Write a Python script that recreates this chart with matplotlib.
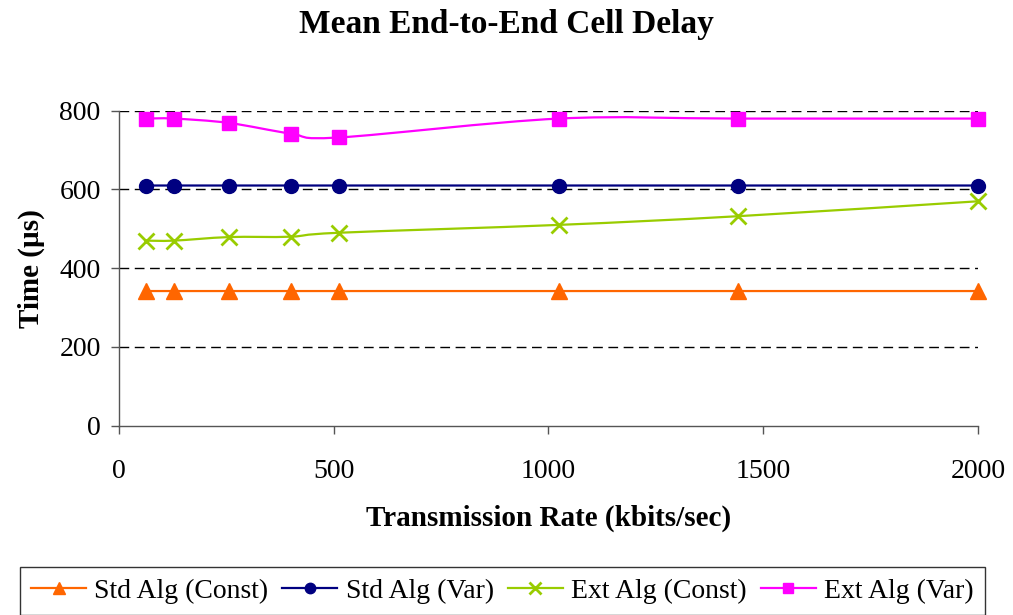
import matplotlib
matplotlib.use("Agg")
import matplotlib.pyplot as plt
from matplotlib.lines import Line2D
from matplotlib.patches import PathPatch
from matplotlib.path import Path
import numpy as np

plt.rcParams["font.family"] = ["Liberation Serif", "DejaVu Serif"]

# transmission rates (kbits/sec) and mean delays (microseconds)
rates = [64, 128, 256, 400, 512, 1024, 1440, 2000]
std_const = [342, 342, 342, 342, 342, 342, 342, 342]
std_var = [610, 610, 610, 610, 610, 610, 610, 610]
ext_const = [470, 470, 479, 480, 490, 510, 532, 570]
ext_var = [780, 780, 769, 742, 732, 780, 780, 780]

series_names = ["Std Alg (Const)", "Std Alg (Var)", "Ext Alg (Const)", "Ext Alg (Var)"]
y_ticks = [0, 200, 400, 600, 800]
x_ticks = [0, 500, 1000, 1500, 2000]


def smooth_path(xs, ys):
    # spreadsheet-style smoothed line: cubic Bezier through each point,
    # control points taken from the neighbouring points
    pts = np.column_stack([xs, ys]).astype(float)
    n = len(pts)
    verts = [pts[0]]
    codes = [Path.MOVETO]
    for i in range(n - 1):
        p0 = pts[i - 1] if i > 0 else pts[i]
        p1 = pts[i]
        p2 = pts[i + 1]
        p3 = pts[i + 2] if i + 2 < n else pts[i + 1]
        c1 = p1 + (p2 - p0) / 6.0
        c2 = p2 - (p3 - p1) / 6.0
        verts += [c1, c2, p2]
        codes += [Path.CURVE4] * 3
    return Path(verts, codes)


fig = plt.figure(figsize=(10.13, 6.15), dpi=100)
ax = fig.add_axes([0.1172, 0.3078, 0.8485, 0.5122])

styles = [
    (std_const, "#FF6600", "^", 11, 1.0),
    (std_var, "#000080", "o", 10, 1.0),
    (ext_const, "#99CC00", "x", 11, 2.0),
    (ext_var, "#FF00FF", "s", 10, 1.0),
]

handles = []
for (values, color, marker, msize, mew), name in zip(styles, series_names):
    patch = PathPatch(smooth_path(rates, values), facecolor="none",
                      edgecolor=color, linewidth=1.6, clip_on=False, zorder=3)
    ax.add_patch(patch)
    ax.plot(rates, values, linestyle="none", marker=marker, color=color,
            markersize=msize, markeredgewidth=mew, clip_on=False, zorder=4)
    handles.append(Line2D([], [], color=color, linewidth=1.6, marker=marker,
                          markersize=msize * 0.75, markeredgewidth=mew, label=name))

ax.set_xlim(0, 2000)
ax.set_ylim(0, 800)
ax.set_xticks(x_ticks)
ax.set_yticks(y_ticks)

for y in y_ticks[1:]:
    ax.axhline(y, color="black", linewidth=1.0, linestyle=(0, (7, 4)), zorder=1)

for side in ("top", "right"):
    ax.spines[side].set_visible(False)
for side in ("left", "bottom"):
    ax.spines[side].set_color("#555555")
    ax.spines[side].set_linewidth(1.0)

ax.tick_params(axis="both", direction="out", length=6, width=1.0,
               color="#555555", labelsize=20)
ax.tick_params(axis="x", pad=18)
ax.tick_params(axis="y", pad=7)

ax.set_xlabel("Transmission Rate (kbits/sec)", fontsize=21, fontweight="bold", labelpad=15)
ax.set_ylabel("Time (\u00b5s)", fontsize=21, fontweight="bold", labelpad=10)

fig.suptitle("Mean End-to-End Cell Delay", fontsize=24, fontweight="bold", y=0.986)

leg = fig.legend(handles=handles, loc="upper left", bbox_to_anchor=(0.0197, 0.078),
                 ncol=4, fontsize=20, frameon=True, fancybox=False,
                 handlelength=1.98, handletextpad=0.3, columnspacing=0.5,
                 borderpad=0.4, borderaxespad=0.0)
leg.get_frame().set_edgecolor("black")
leg.get_frame().set_linewidth(1.0)

fig.savefig("out.png", dpi=100)
